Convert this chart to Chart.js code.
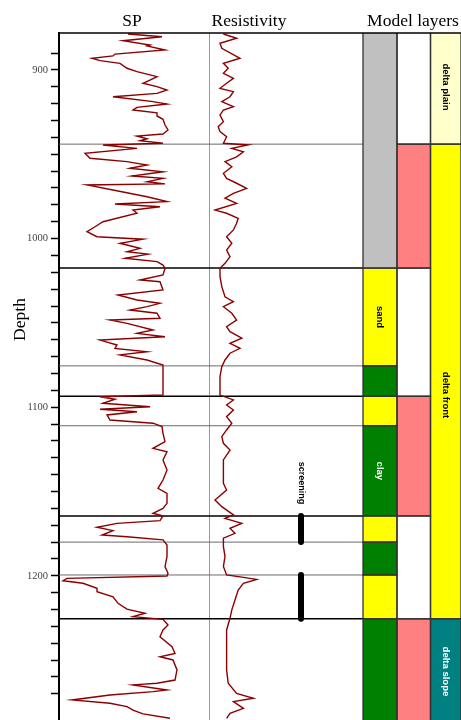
<!DOCTYPE html>
<html>
<head>
<meta charset="utf-8">
<script src="https://cdn.jsdelivr.net/npm/chart.js@4.4.0/dist/chart.umd.min.js"></script>
<style>
html, body { margin: 0; padding: 0; background: #fff; }
canvas { display: block; }
</style>
</head>
<body>
<canvas id="myChart" width="461" height="720"></canvas>
<script>
const sp_depth = [878.7,880.3,882.7,885.2,885.8,888.2,890.6,891.7,893.1,894.5,
  896.1,899.0,901.0,904.0,906.0,907.9,909.9,911.9,913.9,915.9,
  918.8,920.2,922.2,923.8,925.4,927.3,929.3,932.7,935.6,938.0,
  939.2,940.8,942.0,943.5,944.5,946.5,949.4,952.4,954.4,956.4,
  958.3,960.4,962.9,964.3,966.3,967.6,968.2,971.2,975.2,978.1,
  979.5,981.1,983.1,985.0,990.0,993.0,995.9,998.9,1000.4,1002.8,
  1005.8,1007.8,1009.2,1011.7,1013.7,1015.7,1017.6,1021.6,1024.6,1025.6,
  1030.5,1033.5,1036.4,1038.4,1040.4,1042.4,1044.3,1047.3,1048.3,1050.3,
  1054.2,1056.2,1058.2,1060.2,1063.1,1065.1,1067.1,1069.0,1072.0,1075.0,
  1079.9,1085.8,1092.8,1093.8,1095.3,1097.7,1099.7,1101.2,1102.7,1104.6,
  1107.6,1109.5,1111.5,1115.5,1120.4,1124.4,1126.4,1131.3,1137.2,1143.2,
  1148.1,1151.1,1154.0,1157.0,1160.0,1162.9,1164.5,1167.3,1168.9,1171.2,
  1173.2,1175.8,1176.8,1178.7,1181.7,1188.6,1194.5,1198.5,1200.1,1201.5,
  1202.9,1204.4,1207.4,1209.4,1212.4,1216.3,1219.8,1222.2,1224.2,1225.8,
  1229.2,1232.1,1236.1,1242.0,1246.0,1248.0,1249.9,1255.8,1261.8,1263.7,
  1264.7,1267.7,1268.7,1270.7,1273.6,1275.6,1277.6,1279.6,1281.9,1284.5];
const sp_mv = [-51,-17,-56,-29,-32,-14,-64,-66,-87,-79,
  -59,-52,-42,-22,-29,-36,-22,-12,-22,-66,
  -26,-12,-42,-46,-22,-22,-16,-14,-11,-16,
  -42,-32,-39,-16,-76,-42,-94,-89,-52,-32,
  -49,-16,-47,-16,-32,-14,-92,-66,-32,-12,
  -64,-19,-46,-42,-76,-84,-92,-82,-36,-59,
  -39,-52,-31,-54,-22,-16,-14,-16,-39,-19,
  -16,-61,-42,-19,-32,-49,-22,-19,-69,-52,
  -26,-42,-14,-79,-62,-64,-32,-59,-32,-16,
  -16,-16,-16,-79,-64,-76,-29,-79,-42,-72,
  -69,-26,-17,-16,-14,-26,-12,-16,-12,-16,
  -21,-12,-12,-12,-16,-26,-16,-19,-62,-82,
  -66,-77,-52,-16,-12,-12,-14,-11,-12,-112,
  -116,-96,-82,-82,-66,-61,-52,-34,-46,-16,
  -11,-16,-19,-7,-4,-19,-6,-2,-4,-22,
  -46,-12,-26,-69,-107,-69,-52,-46,-36,-9];

const res_depth = [878.7,881.2,884.2,887.2,893.1,896.1,899.0,902.0,905.0,907.9,
  910.9,912.9,915.9,918.8,921.8,923.8,926.7,930.7,933.7,936.6,
  939.6,943.5,944.5,946.5,948.5,951.5,954.4,957.4,961.3,964.3,
  967.2,970.2,973.2,976.1,979.1,983.1,985.0,988.0,990.9,994.9,
  998.9,1002.8,1006.8,1010.8,1014.7,1017.6,1022.6,1028.5,1034.5,1037.4,
  1040.4,1044.3,1048.3,1052.3,1055.2,1059.1,1062.1,1065.1,1068.0,1072.0,
  1076.0,1081.9,1087.8,1092.8,1095.7,1098.7,1101.7,1105.6,1109.5,1113.5,
  1117.5,1121.4,1125.4,1131.3,1139.2,1145.1,1149.1,1155.0,1159.0,1163.9,
  1165.9,1168.9,1171.8,1174.8,1177.7,1182.7,1188.6,1194.5,1199.5,1200.9,
  1202.1,1204.4,1208.4,1214.3,1220.2,1225.2,1232.1,1240.0,1247.9,1255.8,
  1263.7,1269.7,1272.6,1274.6,1278.6,1281.5,1284.5];
const res_ohmm = [3.6,6.9,2.75,3.2,7.75,3.6,4.8,3.6,6.1,4.4,
  2.75,6.1,5.25,3.2,6.1,3.6,2.75,3.6,2.3,2.75,
  4.4,3.6,9.8,5.7,8.6,6.9,4.0,5.7,3.6,4.4,
  6.9,9.4,6.1,4.0,6.9,1.5,4.4,7.3,6.9,6.1,
  4.4,5.7,4.4,5.25,4.0,2.75,2.75,3.2,4.0,6.1,
  3.6,5.7,6.9,4.4,5.25,8.2,5.25,7.75,5.25,4.0,
  3.2,2.75,2.75,2.75,6.1,4.4,6.1,4.4,5.7,4.4,
  3.2,3.6,5.25,3.6,3.6,3.6,4.4,1.5,3.2,6.1,
  4.0,8.2,5.25,6.5,3.6,3.6,4.0,3.6,4.4,8.6,
  11.9,8.6,7.3,6.5,5.7,5.25,4.4,4.4,4.4,4.4,
  4.8,6.9,11.1,6.1,8.6,5.25,4.4];

const depth_labels = [900, 1000, 1100, 1200];

// layer boundaries (depth, kind)
const boundary_depth = [944, 1017.5, 1075.5, 1093.5, 1111, 1164.5, 1180, 1199.5, 1225.5];
const boundary_kind  = ['minor','major','minor','major','minor','major','minor','minor','major'];

// model layer columns: [top, base, code, label]
const lith_layers = [
  [870, 1017.5, 'shale', ''], [1017.5, 1075.5, 'sand', 'sand'], [1075.5, 1093.5, 'clay', ''],
  [1093.5, 1111, 'sand', ''], [1111, 1164.5, 'clay', 'clay'], [1164.5, 1180, 'sand', ''],
  [1180, 1199.5, 'clay', ''], [1199.5, 1225.5, 'sand', ''], [1225.5, 1300, 'clay', '']
];
const flag_layers = [
  [870, 944, 'off'], [944, 1017.5, 'on'], [1017.5, 1093.5, 'off'],
  [1093.5, 1164.5, 'on'], [1164.5, 1225.5, 'off'], [1225.5, 1300, 'on']
];
const facies_layers = [
  [870, 944, 'plain', 'delta plain', 910.1],
  [944, 1225.5, 'front', 'delta front', 1092.8],
  [1225.5, 1300, 'slope', 'delta slope', 1256.7]
];
const screening = [[1164.5, 1180], [1199.5, 1225.5]];

// ---- layout / style ----
const W = 402;                 // chart area width in px
const SP_MIN = -120, SP_MAX = 30, SP_PX = 150;
const RES_MIN = 0, RES_MAX = 20, RES_PX = 80;
const COL_EDGES = [304, 338, 371.5, 402];
const SCREEN_X = 242;
const curveColor = '#8b0000';
const fillColors = { shale: '#c0c0c0', sand: '#ffff00', clay: '#008000',
  off: '#ffffff', on: '#ff8080', plain: '#ffffcc', front: '#ffff00', slope: '#008080' };
const textColors = { sand: '#000', clay: '#fff', plain: '#000', front: '#000', slope: '#fff' };
const serif = '"Liberation Serif", "Times New Roman", serif';

function trackRange(lo, hi, offsetPx, widthPx) {
  const per = (hi - lo) / widthPx;
  return { min: lo - offsetPx * per, max: lo + (W - offsetPx) * per };
}
const spRange = trackRange(SP_MIN, SP_MAX, 0, SP_PX);
const resRange = trackRange(RES_MIN, RES_MAX, SP_PX, RES_PX);

const screenData = [];
screening.forEach(([a, b], i) => {
  if (i > 0) screenData.push({ x: null, y: (a + screening[i - 1][1]) / 2 });
  screenData.push({ x: SCREEN_X, y: a }, { x: SCREEN_X, y: b });
});

const logPlugin = {
  id: 'logPlugin',
  beforeDatasetsDraw(chart) {
    const { ctx, chartArea: a, scales } = chart;
    const y = scales.y, xl = scales.xLay;
    ctx.save();
    ctx.beginPath();
    ctx.rect(a.left, a.top, a.right - a.left, a.bottom - a.top);
    ctx.clip();
    // SP / resistivity separator
    const sx = Math.round(scales.xSP.getPixelForValue(SP_MAX)) + 0.5;
    ctx.strokeStyle = '#999'; ctx.lineWidth = 1;
    ctx.beginPath(); ctx.moveTo(sx, a.top); ctx.lineTo(sx, a.bottom); ctx.stroke();
    // boundaries
    const colLeft = xl.getPixelForValue(COL_EDGES[0]);
    boundary_depth.forEach((d, i) => {
      const py = y.getPixelForValue(d);
      const major = boundary_kind[i] === 'major';
      ctx.strokeStyle = major ? '#000' : '#6a6a6a';
      ctx.lineWidth = major ? 1.6 : 1;
      ctx.beginPath(); ctx.moveTo(a.left, py); ctx.lineTo(colLeft, py); ctx.stroke();
    });
    // model layer cells
    [lith_layers, flag_layers, facies_layers].forEach((col, c) => {
      const x1 = xl.getPixelForValue(COL_EDGES[c]), x2 = xl.getPixelForValue(COL_EDGES[c + 1]);
      col.forEach(L => {
        const y1 = y.getPixelForValue(L[0]), y2 = y.getPixelForValue(L[1]);
        ctx.fillStyle = fillColors[L[2]];
        ctx.fillRect(x1, y1, x2 - x1, y2 - y1);
      });
    });
    ctx.strokeStyle = '#333'; ctx.lineWidth = 1.3;
    [lith_layers, flag_layers, facies_layers].forEach((col, c) => {
      const x1 = xl.getPixelForValue(COL_EDGES[c]), x2 = xl.getPixelForValue(COL_EDGES[c + 1]);
      col.forEach(L => {
        const y1 = y.getPixelForValue(L[0]), y2 = y.getPixelForValue(L[1]);
        ctx.strokeRect(x1, y1, x2 - x1, y2 - y1);
      });
    });
    ctx.restore();
  },
  afterDatasetsDraw(chart) {
    const { ctx, chartArea: a, scales } = chart;
    const y = scales.y, xl = scales.xLay;
    ctx.save();
    // top border
    ctx.strokeStyle = '#000'; ctx.lineWidth = 1.6;
    ctx.beginPath(); ctx.moveTo(a.left, a.top); ctx.lineTo(a.right, a.top); ctx.stroke();
    // rotated labels
    const rot = (txt, x, py, color, font) => {
      ctx.save();
      ctx.translate(x, py); ctx.rotate(Math.PI / 2);
      ctx.font = font; ctx.fillStyle = color;
      ctx.textAlign = 'center'; ctx.textBaseline = 'middle';
      ctx.fillText(txt, 0, 0);
      ctx.restore();
    };
    const lab = 'bold 9.5px "Liberation Sans", Arial, sans-serif';
    lith_layers.forEach(L => {
      if (!L[3]) return;
      const cx = (xl.getPixelForValue(COL_EDGES[0]) + xl.getPixelForValue(COL_EDGES[1])) / 2;
      rot(L[3], cx, y.getPixelForValue((L[0] + L[1]) / 2), textColors[L[2]], lab);
    });
    facies_layers.forEach(L => {
      const cx = (xl.getPixelForValue(COL_EDGES[2]) + xl.getPixelForValue(COL_EDGES[3])) / 2;
      rot(L[3], cx, y.getPixelForValue(L[4]), textColors[L[2]], lab);
    });
    rot('screening', xl.getPixelForValue(SCREEN_X), y.getPixelForValue(1145), '#000',
        'bold 9px "Liberation Sans", Arial, sans-serif');
    ctx.restore();
  },
  afterDraw(chart) {
    const { ctx, scales } = chart;
    ctx.save();
    ctx.font = '17.5px ' + serif;
    ctx.fillStyle = '#000';
    ctx.textAlign = 'center'; ctx.textBaseline = 'alphabetic';
    const spC = (scales.xSP.getPixelForValue(SP_MIN) + scales.xSP.getPixelForValue(SP_MAX)) / 2;
    const resC = (scales.xRes.getPixelForValue(RES_MIN) + scales.xRes.getPixelForValue(RES_MAX)) / 2;
    const modC = (scales.xLay.getPixelForValue(COL_EDGES[0]) + scales.xLay.getPixelForValue(COL_EDGES[3])) / 2;
    ctx.fillText('SP', spC - 2, 26);
    ctx.fillText('Resistivity', resC, 26);
    ctx.fillText('Model layers', modC + 1, 26);
    ctx.translate(20, scales.y.getPixelForValue(1048));
    ctx.rotate(-Math.PI / 2);
    ctx.textBaseline = 'middle';
    ctx.fillText('Depth', 0, 0);
    ctx.restore();
  }
};

const ctx = document.getElementById('myChart').getContext('2d');
const myChart = new Chart(ctx, {
  type: 'line',
  data: {
    datasets: [
      {
        label: 'SP',
        data: sp_depth.map((d, i) => ({ x: sp_mv[i], y: d })),
        xAxisID: 'xSP',
        borderColor: curveColor,
        borderWidth: 1.4,
      },
      {
        label: 'Resistivity',
        data: res_depth.map((d, i) => ({ x: res_ohmm[i], y: d })),
        xAxisID: 'xRes',
        borderColor: curveColor,
        borderWidth: 1.4,
      },
      {
        label: 'screening',
        data: screenData,
        xAxisID: 'xLay',
        borderColor: '#000',
        borderWidth: 6,
        borderCapStyle: 'round',
      }
    ]
  },
  options: {
    responsive: false,
    animation: false,
    indexAxis: 'y',
    layout: { padding: { top: 33, left: 0, right: 0, bottom: 0 } },
    elements: { point: { radius: 0 }, line: { tension: 0, fill: false } },
    plugins: { legend: { display: false }, title: { display: false }, tooltip: { enabled: false } },
    scales: {
      xSP: { type: 'linear', position: 'top', display: false, min: spRange.min, max: spRange.max },
      xRes: { type: 'linear', position: 'top', display: false, min: resRange.min, max: resRange.max },
      xLay: { type: 'linear', position: 'top', display: false, min: 0, max: W },
      y: {
        type: 'linear',
        reverse: true,
        min: 878.1,
        max: 1285.5,
        afterFit(scale) {
          scale.width = 59;
          scale.paddingTop = 0;
          scale.paddingBottom = 0;
        },
        afterBuildTicks(scale) { scale.ticks = scale.ticks.filter(t => Math.abs(t.value % 10) < 1e-6); },
        ticks: {
          stepSize: 10,
          autoSkip: false,
          padding: 3,
          color: '#444',
          font: { family: serif, size: 10.5 },
          callback: v => depth_labels.includes(v) ? v : ''
        },
        grid: { drawOnChartArea: false, tickLength: 8, tickColor: '#000', tickWidth: 1.5 },
        border: { color: '#000', width: 2 }
      }
    }
  },
  plugins: [logPlugin]
});
</script>
</body>
</html>
